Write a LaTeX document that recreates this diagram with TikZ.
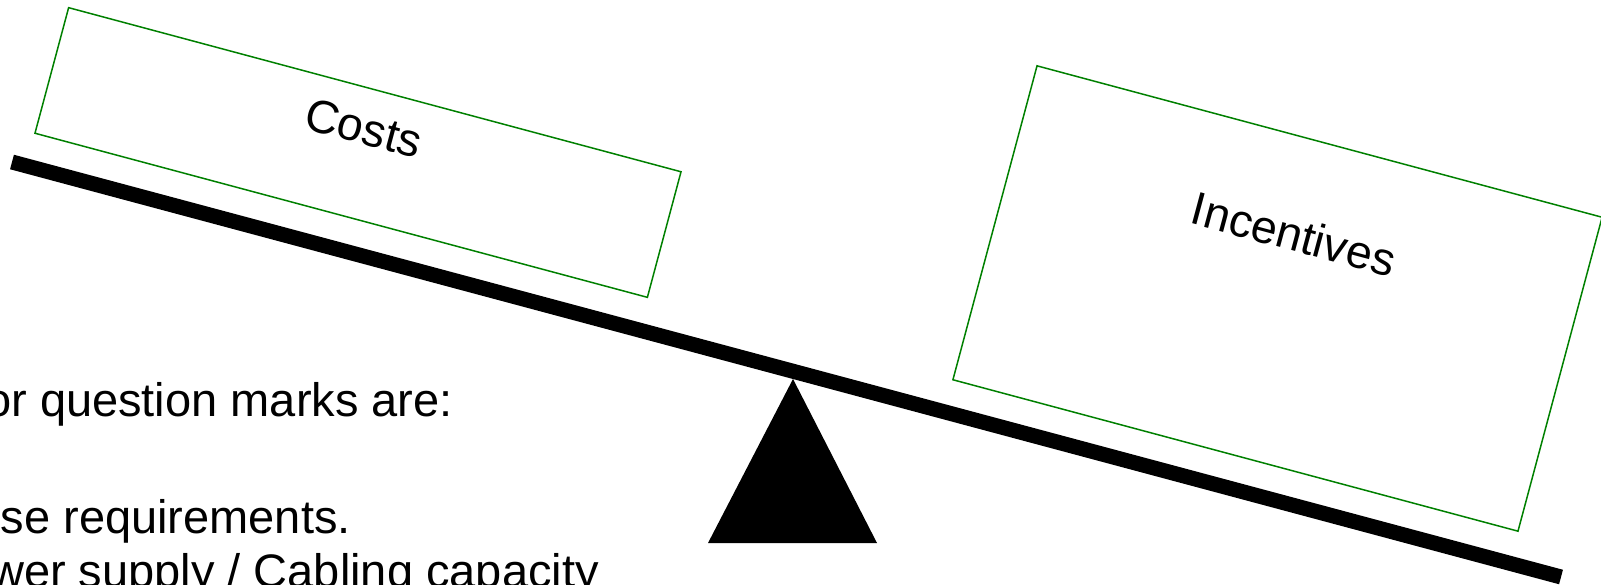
\documentclass[tikz,border=0pt]{standalone}
\usepackage{fontspec}
\setmainfont{Liberation Sans}
\usepackage{xcolor}
\usetikzlibrary{positioning}
\definecolor{pangreen}{RGB}{0,128,0}
\tikzset{%
   pan/.style={
      draw=pangreen,
      line width=1.5pt,
      rotate=-15,
      inner sep=0pt,
      outer sep=0pt
   },
   word/.style={
      font=\fontsize{46.5}{56}\selectfont,
      rotate=-15,
      inner sep=0pt
   },
   note/.style={
      font=\fontsize{47}{56}\selectfont,
      inner sep=0pt,
      anchor=base east
   },
   beam/.style={
      line width=15pt,
      line cap=butt
   },
}

\begin{document}
\begin{tikzpicture}[x=1pt, y=-1pt]
      \clip (0,0) rectangle (1601,584);
      % the two pans
      \node[pan, minimum width=634pt, minimum height=130pt] (costs) at (358,152.5) {};
      \node[pan, minimum width=585pt, minimum height=325pt] (incent) at (1277.5,298.5) {};
      \node[word] (coststxt) at (364,128) {Costs};
      \node[word] (incenttxt) at (1294,234) {Incentives};
      % lever and fulcrum
      \coordinate (beamL) at (12,162);
      \coordinate (beamR) at (1561,577);
      \draw[beam] (beamL) -- (beamR);
      \coordinate (top) at (793,379);
      \coordinate (footL) at (708,543);
      \coordinate (footR) at (877,543);
      \fill (top) -- (footL) -- (footR) -- cycle;
      % text at the left
      \node[note] (line1) at (453,416) {or question marks are:};
      \node[note] (line2) at (351,533) {se requirements.};
      \node[note] (line3) at (599,587) {wer supply / Cabling capacity};
\end{tikzpicture}
\end{document}
